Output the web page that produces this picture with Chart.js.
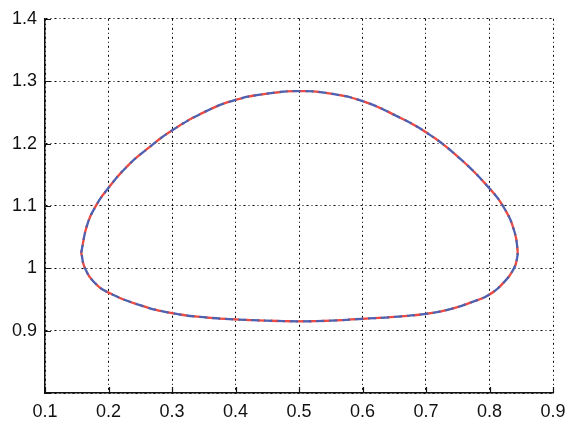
<!DOCTYPE html>
<html>
<head>
<meta charset="utf-8">
<script src="https://cdn.jsdelivr.net/npm/chart.js@4/dist/chart.umd.min.js"></script>
<style>
  html, body { margin: 0; padding: 0; background: #fff; }
  #wrap { width: 575px; height: 425px; }
</style>
</head>
<body>
<div id="wrap"><canvas id="myChart"></canvas></div>
<script>
// Data for the chart: one closed curve (clockwise from the left tip)
var curveX = [0.157, 0.166, 0.179, 0.200, 0.231, 0.263, 0.300, 0.350, 0.400, 0.450,
              0.500, 0.550, 0.600, 0.650, 0.700, 0.750, 0.800, 0.824, 0.838, 0.844,
              0.843, 0.838, 0.824, 0.800, 0.770, 0.740, 0.700, 0.650, 0.600, 0.550,
              0.500, 0.450, 0.400, 0.350, 0.300, 0.252, 0.200, 0.179, 0.163, 0.157];
var curveY = [1.025, 1.068, 1.098, 1.129, 1.165, 1.193, 1.221, 1.250, 1.270, 1.280,
              1.284, 1.280, 1.268, 1.246, 1.218, 1.179, 1.128, 1.095, 1.063, 1.031,
              1.014, 0.999, 0.979, 0.958, 0.945, 0.935, 0.927, 0.922, 0.919, 0.916,
              0.915, 0.916, 0.918, 0.9215, 0.928, 0.940, 0.961, 0.976, 1.000, 1.025];

var xTicks = [0.1, 0.2, 0.3, 0.4, 0.5, 0.6, 0.7, 0.8, 0.9];
var yTicks = [0.8, 0.9, 1.0, 1.1, 1.2, 1.3, 1.4];
var yTickLabels = ["", "0.9", "1", "1.1", "1.2", "1.3", "1.4"];

// blue first so it is drawn on top
var seriesNames = ["blue", "red", "green"];
var seriesColors = ["#5060b0", "#ec4a42", "#1f9e50"];
var seriesDash = [[8, 5], [8, 5], [2, 3]];
var seriesDashOffset = [0, 6, 0];
var seriesWidth = [2.3, 2.3, 1.6];

function points() {
  return curveX.map(function (x, i) { return { x: x, y: curveY[i] }; });
}

var datasets = seriesNames.map(function (name, i) {
  return {
    label: name,
    data: points(),
    showLine: true,
    borderColor: seriesColors[i],
    borderWidth: seriesWidth[i],
    borderDash: seriesDash[i],
    borderDashOffset: seriesDashOffset[i],
    pointRadius: 0,
    tension: 0.45,
    fill: false
  };
});

// small inward tick marks on the left and bottom axes
var innerTicks = {
  id: "innerTicks",
  afterDraw: function (chart) {
    var ctx = chart.ctx, xs = chart.scales.x, ys = chart.scales.y, a = chart.chartArea;
    ctx.save();
    ctx.strokeStyle = "#111";
    ctx.lineWidth = 1.2;
    ctx.beginPath();
    xTicks.forEach(function (v) {
      var px = Math.round(xs.getPixelForValue(v)) + 0.5;
      ctx.moveTo(px, a.bottom);
      ctx.lineTo(px, a.bottom - 6);
    });
    yTicks.forEach(function (v) {
      var py = Math.round(ys.getPixelForValue(v)) + 0.5;
      ctx.moveTo(a.left, py);
      ctx.lineTo(a.left + 6, py);
    });
    ctx.stroke();
    ctx.restore();
  }
};

var font = { family: "'Liberation Sans', Arial, Helvetica, sans-serif", size: 18 };

var config = {
  type: "scatter",
  data: { datasets: datasets },
  options: {
    responsive: true,
    maintainAspectRatio: false,
    animation: false,
    layout: { padding: { top: 13, right: 22, left: 0, bottom: 0 } },
    scales: {
      x: {
        type: "linear",
        min: 0.1,
        max: 0.9,
        afterFit: function (s) { s.height = 32; },
        afterBuildTicks: function (s) { s.ticks = xTicks.map(function (v) { return { value: v }; }); },
        ticks: {
          padding: 8,
          color: "#111",
          font: font,
          callback: function (v) { return Number(v).toFixed(1); }
        },
        grid: { drawTicks: false, color: "#000", lineWidth: 1 },
        // in v4 border.dash styles the grid lines
        border: { display: true, color: "#111", width: 1.5, dash: [2, 3, 1, 3] }
      },
      y: {
        type: "linear",
        min: 0.8,
        max: 1.4,
        afterFit: function (s) { s.width = 45; },
        afterBuildTicks: function (s) { s.ticks = yTicks.map(function (v) { return { value: v }; }); },
        ticks: {
          padding: 8,
          color: "#111",
          font: font,
          callback: function (v, i) { return yTickLabels[i]; }
        },
        grid: { drawTicks: false, color: "#000", lineWidth: 1 },
        border: { display: true, color: "#111", width: 1.5, dash: [2, 3, 1, 3] }
      }
    },
    plugins: {
      legend: { display: false },
      tooltip: { enabled: false }
    }
  },
  plugins: [innerTicks]
};

var ctx = document.getElementById("myChart").getContext("2d");
var myChart = new Chart(ctx, config);
</script>
</body>
</html>
